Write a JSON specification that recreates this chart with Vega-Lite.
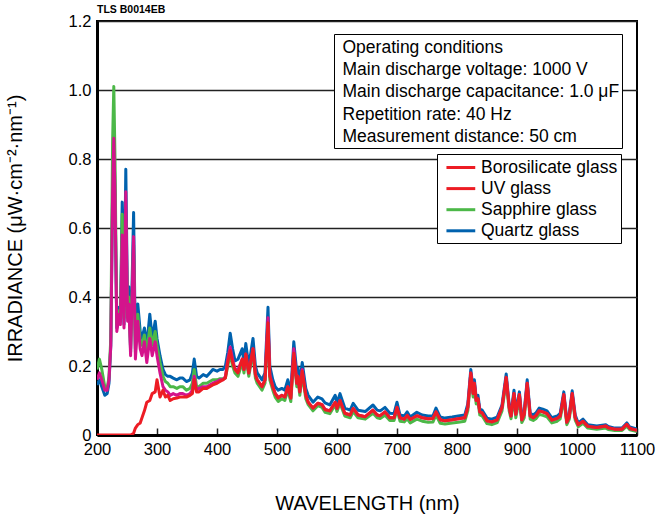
{
  "$schema": "https://vega.github.io/schema/vega-lite/v6.json",
  "width": 540,
  "height": 414,
  "autosize": {"type": "none"},
  "padding": {"left": 97, "top": 21, "right": 20, "bottom": 84},
  "background": "white",
  "title": {"text": "TLS B0014EB", "anchor": "start", "frame": "group", "fontSize": 10.5, "font": "Liberation Sans", "fontWeight": "bold", "offset": -2, "color": "#000"},
  "data": {"values": [
    {"wl":200,"quartz":0.145,"sapphire":0.19,"uv":0.16,"boro":0},
    {"wl":204,"quartz":0.16,"sapphire":0.22,"uv":0.18,"boro":0},
    {"wl":208,"quartz":0.14,"sapphire":0.19,"uv":0.16,"boro":0},
    {"wl":213,"quartz":0.115,"sapphire":0.14,"uv":0.13,"boro":0},
    {"wl":217,"quartz":0.12,"sapphire":0.135,"uv":0.13,"boro":0},
    {"wl":220,"quartz":0.15,"sapphire":0.17,"uv":0.16,"boro":0},
    {"wl":223,"quartz":0.26,"sapphire":0.28,"uv":0.26,"boro":0},
    {"wl":226,"quartz":0.7,"sapphire":0.85,"uv":0.7,"boro":0},
    {"wl":228,"quartz":0.86,"sapphire":1.01,"uv":0.86,"boro":0},
    {"wl":230,"quartz":0.7,"sapphire":0.8,"uv":0.7,"boro":0},
    {"wl":233,"quartz":0.31,"sapphire":0.32,"uv":0.3,"boro":0},
    {"wl":237,"quartz":0.37,"sapphire":0.36,"uv":0.35,"boro":0},
    {"wl":239,"quartz":0.33,"sapphire":0.33,"uv":0.32,"boro":0},
    {"wl":242,"quartz":0.675,"sapphire":0.64,"uv":0.58,"boro":0},
    {"wl":245,"quartz":0.32,"sapphire":0.34,"uv":0.31,"boro":0},
    {"wl":248,"quartz":0.77,"sapphire":0.62,"uv":0.705,"boro":0},
    {"wl":251,"quartz":0.36,"sapphire":0.34,"uv":0.33,"boro":0},
    {"wl":253,"quartz":0.43,"sapphire":0.4,"uv":0.38,"boro":0},
    {"wl":256,"quartz":0.24,"sapphire":0.25,"uv":0.23,"boro":0},
    {"wl":261,"quartz":0.645,"sapphire":0.55,"uv":0.575,"boro":0.005},
    {"wl":264,"quartz":0.25,"sapphire":0.24,"uv":0.22,"boro":0.02},
    {"wl":268,"quartz":0.38,"sapphire":0.35,"uv":0.33,"boro":0.03},
    {"wl":272,"quartz":0.3,"sapphire":0.27,"uv":0.25,"boro":0.035},
    {"wl":275,"quartz":0.28,"sapphire":0.26,"uv":0.23,"boro":0.05},
    {"wl":279,"quartz":0.31,"sapphire":0.29,"uv":0.27,"boro":0.07},
    {"wl":283,"quartz":0.26,"sapphire":0.24,"uv":0.21,"boro":0.095},
    {"wl":288,"quartz":0.35,"sapphire":0.31,"uv":0.28,"boro":0.1},
    {"wl":292,"quartz":0.28,"sapphire":0.26,"uv":0.23,"boro":0.12},
    {"wl":297,"quartz":0.33,"sapphire":0.3,"uv":0.27,"boro":0.125},
    {"wl":300,"quartz":0.28,"sapphire":0.26,"uv":0.23,"boro":0.16},
    {"wl":305,"quartz":0.23,"sapphire":0.21,"uv":0.18,"boro":0.11},
    {"wl":310,"quartz":0.19,"sapphire":0.17,"uv":0.14,"boro":0.13},
    {"wl":314,"quartz":0.175,"sapphire":0.155,"uv":0.13,"boro":0.11},
    {"wl":318,"quartz":0.17,"sapphire":0.15,"uv":0.125,"boro":0.115},
    {"wl":322,"quartz":0.17,"sapphire":0.14,"uv":0.115,"boro":0.1},
    {"wl":327,"quartz":0.165,"sapphire":0.14,"uv":0.12,"boro":0.105},
    {"wl":333,"quartz":0.16,"sapphire":0.135,"uv":0.115,"boro":0.107},
    {"wl":338,"quartz":0.165,"sapphire":0.14,"uv":0.12,"boro":0.11},
    {"wl":343,"quartz":0.165,"sapphire":0.14,"uv":0.12,"boro":0.11},
    {"wl":349,"quartz":0.155,"sapphire":0.13,"uv":0.115,"boro":0.11},
    {"wl":355,"quartz":0.16,"sapphire":0.135,"uv":0.12,"boro":0.115},
    {"wl":359,"quartz":0.18,"sapphire":0.15,"uv":0.13,"boro":0.12},
    {"wl":362,"quartz":0.22,"sapphire":0.19,"uv":0.17,"boro":0.16},
    {"wl":366,"quartz":0.17,"sapphire":0.14,"uv":0.13,"boro":0.125},
    {"wl":370,"quartz":0.165,"sapphire":0.14,"uv":0.135,"boro":0.125},
    {"wl":377,"quartz":0.175,"sapphire":0.15,"uv":0.14,"boro":0.135},
    {"wl":383,"quartz":0.17,"sapphire":0.15,"uv":0.14,"boro":0.135},
    {"wl":388,"quartz":0.18,"sapphire":0.155,"uv":0.145,"boro":0.14},
    {"wl":393,"quartz":0.19,"sapphire":0.16,"uv":0.15,"boro":0.145},
    {"wl":400,"quartz":0.185,"sapphire":0.16,"uv":0.155,"boro":0.15},
    {"wl":405,"quartz":0.19,"sapphire":0.163,"uv":0.16,"boro":0.155},
    {"wl":410,"quartz":0.19,"sapphire":0.163,"uv":0.16,"boro":0.16},
    {"wl":414,"quartz":0.2,"sapphire":0.165,"uv":0.17,"boro":0.165},
    {"wl":418,"quartz":0.24,"sapphire":0.2,"uv":0.22,"boro":0.21},
    {"wl":422,"quartz":0.295,"sapphire":0.235,"uv":0.255,"boro":0.245},
    {"wl":426,"quartz":0.25,"sapphire":0.2,"uv":0.22,"boro":0.21},
    {"wl":430,"quartz":0.215,"sapphire":0.18,"uv":0.19,"boro":0.19},
    {"wl":435,"quartz":0.22,"sapphire":0.17,"uv":0.19,"boro":0.18},
    {"wl":442,"quartz":0.25,"sapphire":0.21,"uv":0.22,"boro":0.22},
    {"wl":445,"quartz":0.21,"sapphire":0.18,"uv":0.19,"boro":0.19},
    {"wl":448,"quartz":0.265,"sapphire":0.225,"uv":0.235,"boro":0.235},
    {"wl":453,"quartz":0.2,"sapphire":0.17,"uv":0.18,"boro":0.18},
    {"wl":460,"quartz":0.28,"sapphire":0.24,"uv":0.25,"boro":0.25},
    {"wl":464,"quartz":0.2,"sapphire":0.165,"uv":0.175,"boro":0.175},
    {"wl":467,"quartz":0.18,"sapphire":0.15,"uv":0.16,"boro":0.16},
    {"wl":475,"quartz":0.16,"sapphire":0.13,"uv":0.14,"boro":0.14},
    {"wl":480,"quartz":0.18,"sapphire":0.15,"uv":0.16,"boro":0.16},
    {"wl":485,"quartz":0.37,"sapphire":0.31,"uv":0.34,"boro":0.325},
    {"wl":488,"quartz":0.2,"sapphire":0.16,"uv":0.175,"boro":0.17},
    {"wl":493,"quartz":0.16,"sapphire":0.13,"uv":0.14,"boro":0.14},
    {"wl":497,"quartz":0.14,"sapphire":0.11,"uv":0.12,"boro":0.12},
    {"wl":502,"quartz":0.13,"sapphire":0.097,"uv":0.11,"boro":0.107},
    {"wl":508,"quartz":0.135,"sapphire":0.105,"uv":0.115,"boro":0.115},
    {"wl":513,"quartz":0.13,"sapphire":0.1,"uv":0.11,"boro":0.11},
    {"wl":518,"quartz":0.16,"sapphire":0.13,"uv":0.14,"boro":0.14},
    {"wl":523,"quartz":0.125,"sapphire":0.097,"uv":0.107,"boro":0.107},
    {"wl":528,"quartz":0.27,"sapphire":0.225,"uv":0.25,"boro":0.237},
    {"wl":533,"quartz":0.18,"sapphire":0.14,"uv":0.15,"boro":0.15},
    {"wl":535,"quartz":0.195,"sapphire":0.16,"uv":0.17,"boro":0.17},
    {"wl":538,"quartz":0.15,"sapphire":0.115,"uv":0.125,"boro":0.125},
    {"wl":542,"quartz":0.21,"sapphire":0.175,"uv":0.19,"boro":0.185},
    {"wl":548,"quartz":0.135,"sapphire":0.105,"uv":0.115,"boro":0.115},
    {"wl":552,"quartz":0.115,"sapphire":0.088,"uv":0.095,"boro":0.095},
    {"wl":560,"quartz":0.095,"sapphire":0.07,"uv":0.078,"boro":0.078},
    {"wl":568,"quartz":0.11,"sapphire":0.085,"uv":0.092,"boro":0.092},
    {"wl":575,"quartz":0.105,"sapphire":0.08,"uv":0.088,"boro":0.088},
    {"wl":580,"quartz":0.093,"sapphire":0.066,"uv":0.075,"boro":0.073},
    {"wl":588,"quartz":0.087,"sapphire":0.062,"uv":0.07,"boro":0.07},
    {"wl":597,"quartz":0.115,"sapphire":0.088,"uv":0.095,"boro":0.095},
    {"wl":600,"quartz":0.093,"sapphire":0.068,"uv":0.077,"boro":0.077},
    {"wl":605,"quartz":0.12,"sapphire":0.092,"uv":0.1,"boro":0.1},
    {"wl":613,"quartz":0.078,"sapphire":0.055,"uv":0.063,"boro":0.063},
    {"wl":622,"quartz":0.072,"sapphire":0.05,"uv":0.058,"boro":0.058},
    {"wl":627,"quartz":0.092,"sapphire":0.068,"uv":0.077,"boro":0.077},
    {"wl":635,"quartz":0.072,"sapphire":0.05,"uv":0.058,"boro":0.058},
    {"wl":647,"quartz":0.068,"sapphire":0.046,"uv":0.053,"boro":0.053},
    {"wl":660,"quartz":0.087,"sapphire":0.063,"uv":0.072,"boro":0.072},
    {"wl":667,"quartz":0.072,"sapphire":0.05,"uv":0.058,"boro":0.058},
    {"wl":672,"quartz":0.07,"sapphire":0.048,"uv":0.056,"boro":0.056},
    {"wl":680,"quartz":0.08,"sapphire":0.057,"uv":0.067,"boro":0.067},
    {"wl":688,"quartz":0.063,"sapphire":0.042,"uv":0.05,"boro":0.05},
    {"wl":695,"quartz":0.062,"sapphire":0.042,"uv":0.05,"boro":0.05},
    {"wl":700,"quartz":0.095,"sapphire":0.072,"uv":0.08,"boro":0.08},
    {"wl":705,"quartz":0.058,"sapphire":0.04,"uv":0.05,"boro":0.05},
    {"wl":712,"quartz":0.055,"sapphire":0.038,"uv":0.046,"boro":0.046},
    {"wl":717,"quartz":0.067,"sapphire":0.047,"uv":0.057,"boro":0.057},
    {"wl":722,"quartz":0.052,"sapphire":0.035,"uv":0.045,"boro":0.045},
    {"wl":733,"quartz":0.066,"sapphire":0.046,"uv":0.056,"boro":0.056},
    {"wl":742,"quartz":0.058,"sapphire":0.04,"uv":0.05,"boro":0.05},
    {"wl":752,"quartz":0.055,"sapphire":0.037,"uv":0.047,"boro":0.047},
    {"wl":760,"quartz":0.056,"sapphire":0.038,"uv":0.048,"boro":0.048},
    {"wl":765,"quartz":0.078,"sapphire":0.058,"uv":0.067,"boro":0.067},
    {"wl":772,"quartz":0.052,"sapphire":0.034,"uv":0.044,"boro":0.044},
    {"wl":780,"quartz":0.049,"sapphire":0.032,"uv":0.041,"boro":0.041},
    {"wl":792,"quartz":0.052,"sapphire":0.035,"uv":0.044,"boro":0.044},
    {"wl":802,"quartz":0.055,"sapphire":0.037,"uv":0.047,"boro":0.047},
    {"wl":813,"quartz":0.058,"sapphire":0.04,"uv":0.05,"boro":0.05},
    {"wl":818,"quartz":0.09,"sapphire":0.07,"uv":0.08,"boro":0.08},
    {"wl":823,"quartz":0.19,"sapphire":0.165,"uv":0.18,"boro":0.18},
    {"wl":827,"quartz":0.13,"sapphire":0.11,"uv":0.12,"boro":0.12},
    {"wl":829,"quartz":0.16,"sapphire":0.14,"uv":0.15,"boro":0.15},
    {"wl":832,"quartz":0.107,"sapphire":0.09,"uv":0.1,"boro":0.1},
    {"wl":835,"quartz":0.115,"sapphire":0.095,"uv":0.105,"boro":0.105},
    {"wl":838,"quartz":0.075,"sapphire":0.058,"uv":0.067,"boro":0.067},
    {"wl":842,"quartz":0.072,"sapphire":0.055,"uv":0.064,"boro":0.064},
    {"wl":850,"quartz":0.049,"sapphire":0.033,"uv":0.041,"boro":0.041},
    {"wl":858,"quartz":0.046,"sapphire":0.03,"uv":0.038,"boro":0.038},
    {"wl":867,"quartz":0.052,"sapphire":0.036,"uv":0.044,"boro":0.044},
    {"wl":875,"quartz":0.087,"sapphire":0.07,"uv":0.08,"boro":0.08},
    {"wl":882,"quartz":0.177,"sapphire":0.155,"uv":0.167,"boro":0.167},
    {"wl":887,"quartz":0.087,"sapphire":0.07,"uv":0.08,"boro":0.08},
    {"wl":890,"quartz":0.063,"sapphire":0.047,"uv":0.055,"boro":0.055},
    {"wl":895,"quartz":0.13,"sapphire":0.11,"uv":0.12,"boro":0.12},
    {"wl":898,"quartz":0.068,"sapphire":0.05,"uv":0.06,"boro":0.06},
    {"wl":904,"quartz":0.125,"sapphire":0.105,"uv":0.117,"boro":0.117},
    {"wl":908,"quartz":0.052,"sapphire":0.036,"uv":0.044,"boro":0.044},
    {"wl":912,"quartz":0.07,"sapphire":0.05,"uv":0.06,"boro":0.06},
    {"wl":917,"quartz":0.16,"sapphire":0.14,"uv":0.15,"boro":0.15},
    {"wl":922,"quartz":0.063,"sapphire":0.046,"uv":0.055,"boro":0.055},
    {"wl":927,"quartz":0.058,"sapphire":0.042,"uv":0.05,"boro":0.05},
    {"wl":932,"quartz":0.065,"sapphire":0.048,"uv":0.057,"boro":0.057},
    {"wl":937,"quartz":0.078,"sapphire":0.06,"uv":0.07,"boro":0.07},
    {"wl":943,"quartz":0.075,"sapphire":0.057,"uv":0.067,"boro":0.067},
    {"wl":950,"quartz":0.07,"sapphire":0.053,"uv":0.062,"boro":0.062},
    {"wl":958,"quartz":0.05,"sapphire":0.035,"uv":0.043,"boro":0.043},
    {"wl":967,"quartz":0.055,"sapphire":0.04,"uv":0.048,"boro":0.048},
    {"wl":972,"quartz":0.063,"sapphire":0.047,"uv":0.055,"boro":0.055},
    {"wl":978,"quartz":0.125,"sapphire":0.105,"uv":0.117,"boro":0.117},
    {"wl":983,"quartz":0.043,"sapphire":0.03,"uv":0.037,"boro":0.037},
    {"wl":987,"quartz":0.06,"sapphire":0.045,"uv":0.052,"boro":0.052},
    {"wl":992,"quartz":0.128,"sapphire":0.108,"uv":0.12,"boro":0.12},
    {"wl":997,"quartz":0.058,"sapphire":0.043,"uv":0.05,"boro":0.05},
    {"wl":1002,"quartz":0.035,"sapphire":0.024,"uv":0.03,"boro":0.03},
    {"wl":1010,"quartz":0.046,"sapphire":0.034,"uv":0.04,"boro":0.04},
    {"wl":1018,"quartz":0.03,"sapphire":0.02,"uv":0.025,"boro":0.025},
    {"wl":1033,"quartz":0.026,"sapphire":0.017,"uv":0.022,"boro":0.022},
    {"wl":1048,"quartz":0.03,"sapphire":0.02,"uv":0.026,"boro":0.026},
    {"wl":1052,"quartz":0.025,"sapphire":0.016,"uv":0.021,"boro":0.021},
    {"wl":1063,"quartz":0.02,"sapphire":0.013,"uv":0.017,"boro":0.017},
    {"wl":1075,"quartz":0.02,"sapphire":0.013,"uv":0.017,"boro":0.017},
    {"wl":1083,"quartz":0.035,"sapphire":0.026,"uv":0.031,"boro":0.031},
    {"wl":1088,"quartz":0.023,"sapphire":0.015,"uv":0.019,"boro":0.019},
    {"wl":1100,"quartz":0.017,"sapphire":0.01,"uv":0.014,"boro":0.014}
  ]},
  "layer": [
    {
      "mark": {"type": "line", "strokeWidth": 3, "strokeJoin": "round", "clip": true},
      "encoding": {
        "x": {"field": "wl", "type": "quantitative", "title": "WAVELENGTH (nm)",
          "scale": {"domain": [200, 1100], "nice": false, "zero": false},
          "axis": {"values": [200,300,400,500,600,700,800,900,1000,1100], "format": "d", "grid": false, "tickSize": -7, "tickWidth": 1.5, "tickColor": "#222", "labelPadding": 13, "titlePadding": 36, "labelFlush": false}},
        "y": {"field": "quartz", "type": "quantitative", "title": "IRRADIANCE (μW·cm⁻²·nm⁻¹)",
          "scale": {"domain": [0, 1.2], "nice": false},
          "axis": {"values": [0,0.2,0.4,0.6,0.8,1.0,1.2], "ticks": false, "grid": true, "labelPadding": 6, "titlePadding": 43, "labelExpr": "datum.value === 0 ? '0' : format(datum.value, '.1f')"}},
        "color": {"datum": "Quartz glass", "type": "nominal",
          "scale": {"domain": ["Borosilicate glass", "UV glass", "Sapphire glass", "Quartz glass"], "range": ["#ED1C24", "#ED1C24", "#4CB848", "#0062AE"]},
          "legend": {"orient": "none", "legendX": 340, "legendY": 133, "title": null, "fillColor": "white", "strokeColor": "black", "padding": 3,
            "labelFontSize": 17.5, "labelFont": "Liberation Sans", "labelColor": "#000", "labelLimit": 300, "labelOffset": 20,
            "symbolType": "M-0.45,0H2.75", "symbolSize": 324, "symbolStrokeWidth": 3, "rowPadding": 2.1}}
      }
    },
    {
      "mark": {"type": "line", "strokeWidth": 3, "strokeJoin": "round", "clip": true},
      "encoding": {
        "x": {"field": "wl", "type": "quantitative"},
        "y": {"field": "sapphire", "type": "quantitative", "title": "IRRADIANCE (μW·cm⁻²·nm⁻¹)"},
        "color": {"datum": "Sapphire glass", "type": "nominal"}
      }
    },
    {
      "mark": {"type": "line", "strokeWidth": 3, "strokeJoin": "round", "clip": true, "stroke": "#D4138C"},
      "encoding": {
        "x": {"field": "wl", "type": "quantitative"},
        "y": {"field": "uv", "type": "quantitative", "title": "IRRADIANCE (μW·cm⁻²·nm⁻¹)"}
      }
    },
    {
      "mark": {"type": "line", "strokeWidth": 3, "strokeJoin": "round", "clip": true},
      "encoding": {
        "x": {"field": "wl", "type": "quantitative"},
        "y": {"field": "boro", "type": "quantitative", "title": "IRRADIANCE (μW·cm⁻²·nm⁻¹)"},
        "color": {"datum": "Borosilicate glass", "type": "nominal"}
      }
    },
    {
      "data": {"values": [
        {"cond": "Operating conditions"},
        {"cond": "Main discharge voltage: 1000 V"},
        {"cond": "Main discharge capacitance: 1.0 μF"},
        {"cond": "Repetition rate: 40 Hz"},
        {"cond": "Measurement distance: 50 cm"}
      ]},
      "mark": {"type": "point", "opacity": 0},
      "encoding": {
        "shape": {"field": "cond", "type": "nominal",
          "scale": {"domain": ["Operating conditions", "Main discharge voltage: 1000 V", "Main discharge capacitance: 1.0 μF", "Repetition rate: 40 Hz", "Measurement distance: 50 cm"]},
          "legend": {"orient": "none", "legendX": 237, "legendY": 13, "title": null, "fillColor": "white", "strokeColor": "black", "padding": 2,
            "labelFontSize": 17.5, "labelFont": "Liberation Sans", "labelColor": "#000", "labelLimit": 400, "labelOffset": -11,
            "symbolSize": 0, "symbolOpacity": 0, "symbolStrokeWidth": 0, "rowPadding": 1.3,
            "encoding": {"labels": {"dy": {"value": 3}}}}}
      }
    }
  ],
  "config": {
    "font": "Liberation Sans",
    "view": {"fill": "#FFF9D5", "stroke": "#000", "strokeWidth": 2},
    "axis": {"labelFont": "Liberation Sans", "labelFontSize": 16.5, "labelColor": "#000", "titleFont": "Liberation Sans", "titleFontSize": 20, "titleFontWeight": "normal", "titleColor": "#000", "domainColor": "#000", "domainWidth": 3, "gridColor": "#222", "gridWidth": 1.5, "gridOpacity": 1}
  }
}
